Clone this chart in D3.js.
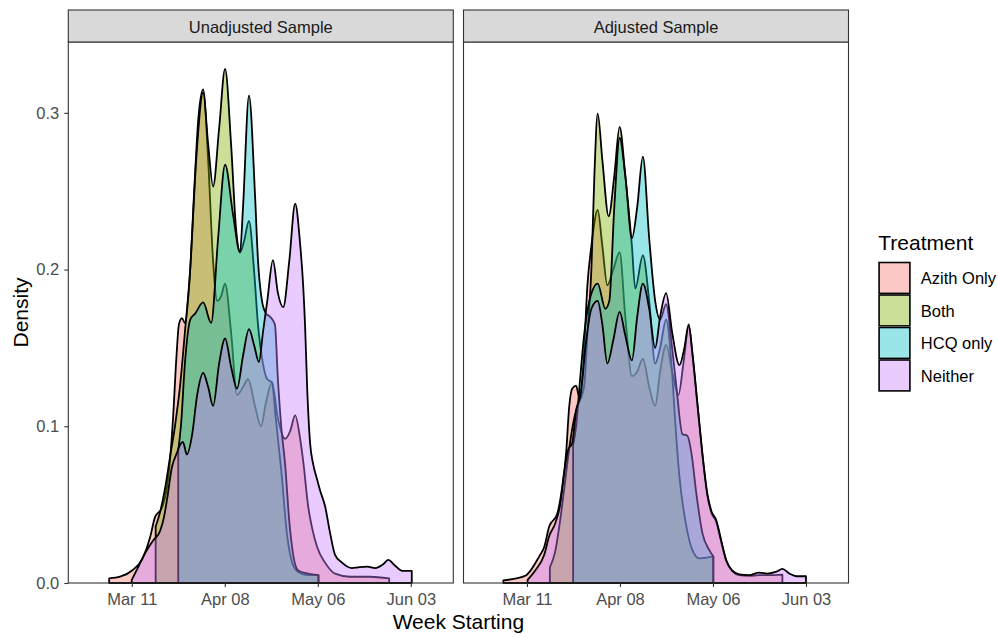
<!DOCTYPE html>
<html><head><meta charset="utf-8">
<script src="https://cdn.jsdelivr.net/npm/d3@7"></script>
<style>
body{margin:0;background:#fff}
svg{display:block}
text{font-family:"Liberation Sans",Arial,Helvetica,sans-serif}
</style>
</head><body>
<svg id="chart" width="998" height="638"></svg>
<script>
// ---------- data ----------
const samples = ["Unadjusted Sample", "Adjusted Sample"];
const treatments = ["Azith Only", "Both", "HCQ only", "Neither"];
const treatmentColors = ["#F8766D", "#7CAE00", "#00BFC4", "#C77CFF"];
const dayTicks = [0, 28, 56, 84];                 // days since 2020-03-11
const dayTickLabels = ["Mar 11", "Apr 08", "May 06", "Jun 03"];
const densityTicks = [0, 0.1, 0.2, 0.3];

// [days since Mar 11, density]
const azithUnadj = [[-6.8,.003],[-3.5,.004],[0.1,.008],[3.1,.015],[5.5,.029],[7.0,.042],[9.1,.048],[10.6,.061],[11.5,.078],[12.4,.104],[13.5,.146],[14.2,.165],[15.1,.169],[16.0,.166],[17.3,.19],[18.8,.25],[20.0,.295],[21.5,.315],[23.0,.27],[24.5,.205],[25.7,.18],[26.9,.183],[28.1,.191],[29.9,.16],[31.7,.12],[33.5,.125],[35.0,.13],[37.1,.113],[38.9,.10],[40.4,.115],[42.2,.128],[44.0,.105],[46.2,.092],[47.7,.097],[49.2,.107],[50.7,.092],[51.6,.078],[53.1,.049],[54.3,.035],[55.8,.023],[58.2,.013],[61.2,.006],[65.7,.004],[71.7,.004],[77.5,.003]];
const bothUnadj = [[7.2,.036],[8.5,.045],[10.0,.06],[11.5,.08],[13.0,.1],[14.5,.125],[16.0,.16],[17.6,.2],[19.4,.27],[21.5,.313],[23.0,.28],[24.5,.253],[26.3,.29],[28.1,.328],[29.9,.28],[31.4,.226],[32.6,.211],[33.8,.218],[35.3,.231],[36.8,.2],[38.0,.165],[39.5,.14],[40.8,.13],[42.2,.128],[43.4,.104],[45.0,.072],[46.8,.03],[48.3,.013],[50.1,.007],[52.8,.005],[56.2,.005]];
const hcqUnadj = [[14.0,.085],[14.8,.1],[16.0,.14],[17.6,.168],[19.1,.172],[21.5,.179],[23.9,.166],[26.0,.22],[28.1,.267],[30.5,.235],[32.6,.211],[33.5,.24],[35.3,.311],[37.1,.248],[38.0,.206],[39.2,.18],[40.4,.172],[41.6,.17],[43.1,.165],[44.0,.13],[45.0,.1],[46.2,.075],[47.4,.04],[48.6,.018],[50.1,.008],[53.0,.006],[56.2,.005]];
const neitherUnadj = [[0.0,.002],[1.9,.01],[4.0,.019],[6.4,.027],[8.5,.033],[9.7,.042],[10.6,.053],[12.1,.074],[13.6,.083],[14.5,.088],[15.4,.09],[16.6,.082],[18.2,.095],[19.7,.12],[21.5,.134],[23.0,.125],[24.5,.113],[26.3,.14],[28.1,.156],[29.9,.138],[31.7,.124],[33.5,.145],[35.3,.162],[36.8,.152],[38.3,.141],[39.5,.16],[40.8,.18],[42.5,.206],[44.0,.185],[45.6,.176],[47.4,.205],[49.2,.242],[50.7,.216],[51.6,.19],[52.2,.163],[52.8,.125],[53.7,.089],[54.6,.076],[55.8,.066],[56.7,.059],[58.2,.049],[59.7,.032],[61.2,.018],[63.3,.013],[66.3,.0095],[68.1,.01],[70.9,.0105],[73.3,.0095],[75.7,.012],[77.2,.0147],[79.3,.011],[81.4,.0078],[84.3,.0078]];

const azithAdj = [[-7.1,.0017],[-3.2,.003],[-0.2,.005],[3.7,.017],[5.2,.023],[6.7,.036],[9.1,.044],[10.6,.061],[11.8,.083],[12.7,.112],[13.6,.124],[14.8,.126],[15.7,.119],[17.0,.14],[18.2,.19],[19.4,.215],[21.3,.238],[22.7,.215],[24.2,.19],[26.0,.2],[27.9,.211],[29.6,.17],[31.6,.132],[33.2,.135],[34.9,.143],[36.8,.125],[38.6,.113],[40.1,.135],[41.9,.152],[43.7,.135],[45.6,.12],[47.1,.14],[48.7,.164],[49.8,.146],[51.3,.114],[52.8,.082],[54.3,.056],[55.5,.045],[57.0,.039],[58.5,.026],[60.0,.014],[61.8,.0075],[63.9,.005],[66.9,.0045],[69.9,.005],[72.9,.005],[76.9,.0054]];
const bothAdj = [[6.9,.01],[8.5,.02],[10.0,.04],[11.5,.065],[13.0,.09],[14.8,.11],[15.7,.115],[16.6,.12],[17.3,.127],[18.2,.159],[19.4,.2],[20.3,.26],[21.3,.2995],[22.7,.27],[24.6,.234],[26.3,.26],[27.9,.291],[29.6,.26],[31.6,.215],[32.6,.188],[34.9,.209],[36.8,.18],[38.6,.14],[40.1,.15],[41.9,.168],[43.7,.134],[44.6,.104],[45.9,.068],[48.0,.036],[49.8,.021],[51.9,.0157],[54.9,.0165],[56.1,.017]];
const hcqAdj = [[13.9,.088],[14.8,.1],[16.0,.13],[17.3,.16],[18.8,.18],[21.3,.191],[23.6,.175],[24.8,.18],[26.3,.24],[27.9,.284],[29.6,.26],[31.6,.22],[33.2,.24],[34.9,.272],[36.8,.22],[38.6,.18],[40.1,.168],[41.9,.178],[43.7,.15],[45.0,.125],[46.8,.095],[48.3,.094],[49.5,.083],[51.0,.057],[52.8,.032],[54.9,.021],[56.1,.017]];
const neitherAdj = [[0.2,.002],[2.5,.008],[5.2,.018],[6.7,.03],[8.5,.038],[10.0,.05],[11.2,.07],[12.4,.085],[13.6,.089],[14.8,.11],[16.3,.122],[17.6,.15],[19.4,.175],[21.3,.18],[22.7,.165],[24.2,.14],[26.0,.155],[27.9,.173],[29.6,.158],[31.6,.142],[33.2,.17],[34.9,.191],[36.8,.175],[38.6,.15],[40.1,.17],[41.9,.185],[43.7,.16],[45.9,.139],[47.4,.15],[48.7,.165],[49.8,.147],[51.3,.115],[52.8,.083],[54.3,.057],[55.5,.046],[57.0,.04],[58.5,.027],[60.0,.0145],[61.8,.008],[63.9,.0055],[66.9,.005],[69.9,.0066],[72.4,.006],[75.1,.0072],[76.9,.009],[79.0,.006],[81.1,.0043],[84.0,.0043]];

const seriesBySample = [
  [azithUnadj, bothUnadj, hcqUnadj, neitherUnadj],
  [azithAdj, bothAdj, hcqAdj, neitherAdj]
];

// ---------- layout ----------
const svg = d3.select("#chart");
const panelTop = 42, panelBottom = 583, panelW = 385;
const panelX = [68.3, 463.5];
const stripTop = 10;
const FILL_ALPHA = 0.4;
const GREY20 = "#333333";
const AXIS_FS = 16.5, TITLE_FS = 21;

const x = d3.scaleLinear().domain([-19.1, 96.8]).range([0, panelW]);
const y = d3.scaleLinear().domain([0, 0.3452]).range([panelBottom - panelTop, 0]);

const area = d3.area()
  .x(d => x(d[0]))
  .y0(y(0))
  .y1(d => y(d[1]))
  .curve(d3.curveMonotoneX);

samples.forEach((name, si) => {
  const g = svg.append("g").attr("transform", `translate(${panelX[si]},${panelTop})`);
  g.append("rect").attr("width", panelW).attr("height", panelBottom - panelTop).attr("fill", "#fff");

  seriesBySample[si].forEach((pts, gi) => {
    g.append("path")
      .attr("d", area(pts))
      .attr("fill", treatmentColors[gi])
      .attr("fill-opacity", FILL_ALPHA)
      .attr("stroke", "#000")
      .attr("stroke-width", 1.8)
      .attr("stroke-linejoin", "round");
  });

  g.append("rect").attr("width", panelW).attr("height", panelBottom - panelTop)
    .attr("fill", "none").attr("stroke", GREY20).attr("stroke-width", 1.1);

  // strip
  const s = svg.append("g").attr("transform", `translate(${panelX[si]},${stripTop})`);
  s.append("rect").attr("width", panelW).attr("height", panelTop - stripTop)
    .attr("fill", "#D9D9D9").attr("stroke", GREY20).attr("stroke-width", 1.1);
  s.append("text").attr("x", panelW / 2).attr("y", (panelTop - stripTop) / 2 + 0.5)
    .attr("text-anchor", "middle").attr("dominant-baseline", "central")
    .attr("font-size", AXIS_FS).attr("fill", "#1A1A1A").text(name);

  // x axis
  const xa = svg.append("g").attr("transform", `translate(${panelX[si]},${panelBottom})`)
    .call(d3.axisBottom(x).tickValues(dayTicks).tickFormat((d, i) => dayTickLabels[i]).tickSize(4).tickPadding(6));
  xa.select(".domain").remove();
  xa.selectAll("line").attr("stroke", GREY20).attr("stroke-width", 1.1);
  xa.selectAll("text").attr("font-size", AXIS_FS).attr("fill", "#4D4D4D").attr("font-family", "Liberation Sans, Arial, sans-serif");

  if (si === 0) {
    const ya = svg.append("g").attr("transform", `translate(${panelX[0]},${panelTop})`)
      .call(d3.axisLeft(y).tickValues(densityTicks).tickFormat(d3.format(".1f")).tickSize(4).tickPadding(5));
    ya.select(".domain").remove();
    ya.selectAll("line").attr("stroke", GREY20).attr("stroke-width", 1.1);
    ya.selectAll("text").attr("font-size", AXIS_FS).attr("fill", "#4D4D4D").attr("font-family", "Liberation Sans, Arial, sans-serif");
  }
});

// axis titles
svg.append("text").attr("x", (panelX[0] + panelX[1] + panelW) / 2).attr("y", 629)
  .attr("text-anchor", "middle").attr("font-size", TITLE_FS).attr("fill", "#000").text("Week Starting");
svg.append("text").attr("transform", `translate(28,${(panelTop + panelBottom) / 2}) rotate(-90)`)
  .attr("text-anchor", "middle").attr("font-size", TITLE_FS).attr("fill", "#000").text("Density");

// legend
const lg = svg.append("g").attr("transform", "translate(878.3,0)");
lg.append("text").attr("x", 0).attr("y", 250).attr("font-size", TITLE_FS).attr("fill", "#000").text("Treatment");
const keyH = 32.5, keyW = 32.4, keyTop = 261.7;
treatments.forEach((t, i) => {
  lg.append("rect").attr("x", 0).attr("y", keyTop + i * keyH).attr("width", keyW).attr("height", keyH)
    .attr("fill", "#fff");
  lg.append("rect").attr("x", 0.8).attr("y", keyTop + i * keyH + 0.8).attr("width", keyW - 1.6).attr("height", keyH - 1.6)
    .attr("fill", treatmentColors[i]).attr("fill-opacity", FILL_ALPHA)
    .attr("stroke", "#000").attr("stroke-width", 1.6);
  lg.append("text").attr("x", 42.5).attr("y", keyTop + i * keyH + keyH / 2 + 0.5)
    .attr("dominant-baseline", "central").attr("font-size", AXIS_FS).attr("fill", "#000").text(t);
});
</script>
</body></html>
